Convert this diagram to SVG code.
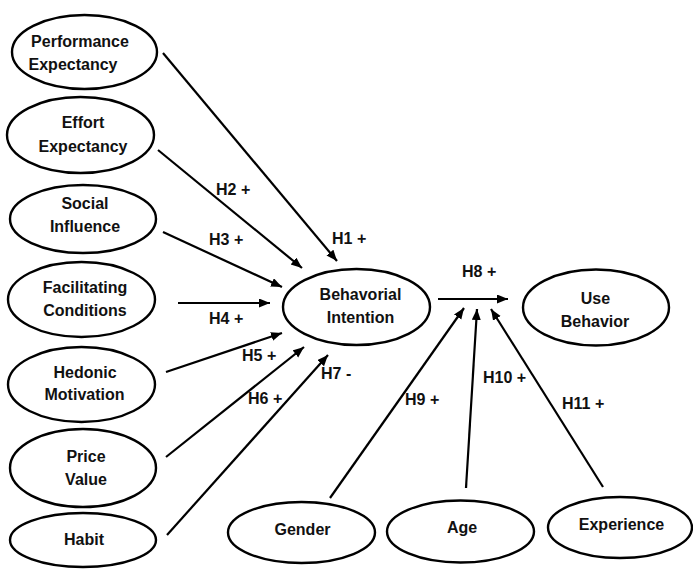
<svg xmlns="http://www.w3.org/2000/svg" width="693" height="569" viewBox="0 0 693 569">
<style>
.n ellipse{fill:#fff;stroke:#000;stroke-width:2.4}
text{font-family:"Liberation Sans",Arial,sans-serif;font-weight:bold;font-size:16px;fill:#111}
.n text{text-anchor:middle}
#edges line{stroke:#000;stroke-width:2.2}
</style>
<defs>
<marker id="ah" markerUnits="userSpaceOnUse" markerWidth="12" markerHeight="10" refX="11" refY="4.5" orient="auto">
<path d="M0,0 L11,4.5 L0,9 z" fill="#000"/>
</marker>
</defs>
<rect width="693" height="569" fill="#fff"/>
<g id="pe" class="n"><ellipse cx="84.5" cy="52" rx="72.5" ry="37"/><text x="80" y="47">Performance</text><text x="73" y="70">Expectancy</text></g>
<g id="ee" class="n"><ellipse cx="80.5" cy="135" rx="73.5" ry="38"/><text x="83" y="128">Effort</text><text x="83" y="152">Expectancy</text></g>
<g id="si" class="n"><ellipse cx="83" cy="219" rx="73" ry="34"/><text x="85" y="209">Social</text><text x="85" y="232">Influence</text></g>
<g id="fc" class="n"><ellipse cx="81.5" cy="299.5" rx="73.5" ry="37.5"/><text x="85" y="293">Facilitating</text><text x="85" y="316">Conditions</text></g>
<g id="hm" class="n"><ellipse cx="81.5" cy="384.5" rx="73.5" ry="37.5"/><text x="85" y="378">Hedonic</text><text x="84.5" y="400">Motivation</text></g>
<g id="pv" class="n"><ellipse cx="83" cy="468" rx="73" ry="39"/><text x="86" y="462">Price</text><text x="86" y="485">Value</text></g>
<g id="hb" class="n"><ellipse cx="83" cy="540" rx="73" ry="27"/><text x="84" y="545">Habit</text></g>
<g id="bi" class="n"><ellipse cx="356.5" cy="307" rx="73.5" ry="38"/><text x="360.5" y="300">Behavorial</text><text x="360.5" y="323">Intention</text></g>
<g id="ub" class="n"><ellipse cx="596" cy="307.5" rx="73" ry="38"/><text x="595.5" y="304">Use</text><text x="595" y="327">Behavior</text></g>
<g id="ge" class="n"><ellipse cx="301.5" cy="532.5" rx="73.5" ry="30.5"/><text x="302.5" y="535">Gender</text></g>
<g id="ag" class="n"><ellipse cx="460.5" cy="531.5" rx="73.5" ry="31"/><text x="462" y="533">Age</text></g>
<g id="ex" class="n"><ellipse cx="620" cy="527.5" rx="72" ry="30.5"/><text x="621.5" y="530">Experience</text></g>
<g id="edges">
<line x1="163" y1="53" x2="337" y2="261" marker-end="url(#ah)"/>
<line x1="158" y1="150" x2="302" y2="268" marker-end="url(#ah)"/>
<line x1="163" y1="232" x2="282" y2="287" marker-end="url(#ah)"/>
<line x1="178" y1="303" x2="270" y2="303" marker-end="url(#ah)"/>
<line x1="166" y1="372" x2="282" y2="333" marker-end="url(#ah)"/>
<line x1="166" y1="457" x2="304" y2="347" marker-end="url(#ah)"/>
<line x1="167" y1="535" x2="328" y2="355" marker-end="url(#ah)"/>
<line x1="438" y1="299" x2="508" y2="299" marker-end="url(#ah)"/>
<line x1="330" y1="498" x2="464" y2="308" marker-end="url(#ah)"/>
<line x1="466" y1="488" x2="477" y2="309" marker-end="url(#ah)"/>
<line x1="603" y1="487" x2="491" y2="309" marker-end="url(#ah)"/>
<g id="labels">
<text x="332" y="244">H1 +</text>
<text x="216" y="195">H2 +</text>
<text x="209" y="245">H3 +</text>
<text x="209" y="324">H4 +</text>
<text x="242" y="361">H5 +</text>
<text x="248" y="404">H6 +</text>
<text x="321" y="379">H7 -</text>
<text x="462" y="277">H8 +</text>
<text x="405" y="405">H9 +</text>
<text x="483" y="383">H10 +</text>
<text x="562" y="409">H11 +</text>
</g>
</g>
</svg>
